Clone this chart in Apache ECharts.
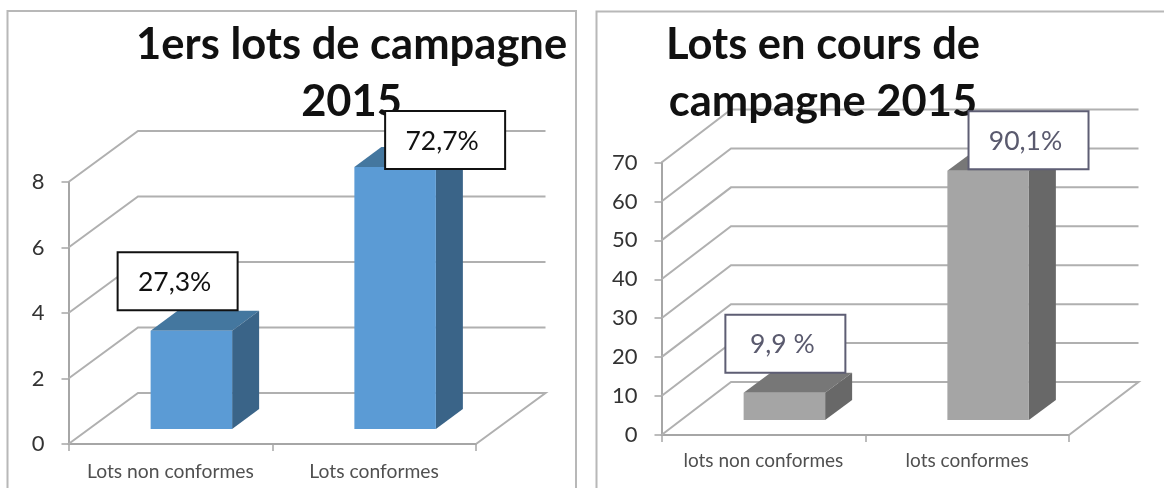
<!DOCTYPE html>
<html>
<head>
<meta charset="utf-8">
<style>
  html, body { margin: 0; padding: 0; background: #fff; }
  #chart { width: 1164px; height: 488px; }
</style>
<script src="https://cdn.jsdelivr.net/npm/echarts@6/dist/echarts.min.js"></script>
</head>
<body>
<div id="chart"></div>
<script>
const leftTitle = '1ers lots de campagne\n2015'
const leftCategories = ['Lots non conformes', 'Lots conformes']
const leftValues = [3, 8]
const leftLabels = ['27,3%', '72,7%']
const leftTicks = [0, 2, 4, 6, 8]

const rightTitle = 'Lots en cours de\ncampagne 2015'
const rightCategories = ['lots non conformes', 'lots conformes']
const rightValues = [7, 64]
const rightLabels = ['9,9 %', '90,1%']
const rightTicks = [0, 10, 20, 30, 40, 50, 60, 70]

const FONT = 'Lato, "Noto Sans", sans-serif'
const GRID_COLOR = '#b0b0b0'

// fake 3D: how far the back wall sits from the axes, and how deep a bar is
const wall = { left: [69.5, -51], right: [69.5, -53] }
const barDepth = [27, -20]
const barInset = [21, -15]

const panels = [
  {
    title: leftTitle, categories: leftCategories, values: leftValues, labels: leftLabels, ticks: leftTicks,
    grid: { left: 68.5, top: 182, width: 407.5, height: 262 },
    titleX: 346.6, titleTop: 11.5, catMargin: 18, catSize: 19.3,
    wall: wall.left,
    front: '#5b9bd5', side: '#3a6488', topFace: '#44779f',
    boxBorder: '#111', boxText: '#111',
    boxOffset: [[-13.75, -49.6], [50, -27]],
  },
  {
    title: rightTitle, categories: rightCategories, values: rightValues, labels: rightLabels, ticks: rightTicks,
    grid: { left: 661.5, top: 162.5, width: 407.5, height: 272.5 },
    titleX: 818, titleTop: 11.5, catMargin: 16, catSize: 19,
    wall: wall.right,
    front: '#a5a5a5', side: '#686868', topFace: '#777777',
    boxBorder: '#5e5e74', boxText: '#5a5a6e',
    boxOffset: [[1, -49], [40.4, -30.5]],
  },
]

function wallSeries(p, i) {
  return {
    type: 'custom', xAxisIndex: i, yAxisIndex: i, z: 1, silent: true, clip: false,
    data: p.ticks.map((t) => [0, t]),
    renderItem: (params, api) => {
      const box = params.coordSys
      const y = api.coord([0, api.value(1)])[1]
      const points = [
        [box.x, y],
        [box.x + p.wall[0], y + p.wall[1]],
        [box.x + box.width + p.wall[0], y + p.wall[1]],
      ]
      // the floor closes back onto the x axis
      if (api.value(1) === 0) points.push([box.x + box.width, y])
      return { type: 'polyline', shape: { points }, style: { stroke: GRID_COLOR, fill: 'none', lineWidth: 2 } }
    },
  }
}

function barFrame(api, index, value) {
  const band = api.size([1, 0])[0]
  const w = band * 0.4
  const cx = api.coord([index, 0])[0] + barInset[0]
  return {
    cx,
    x0: cx - w / 2,
    x1: cx + w / 2,
    base: api.coord([index, 0])[1] + barInset[1],
    top: api.coord([index, value])[1] + barInset[1],
  }
}

function barSeries(p, i) {
  return {
    type: 'custom', xAxisIndex: i, yAxisIndex: i, z: 4, silent: true, clip: false,
    data: p.values.map((v, idx) => [idx, v]),
    renderItem: (params, api) => {
      const f = barFrame(api, api.value(0), api.value(1))
      const [dx, dy] = barDepth
      return {
        type: 'group',
        children: [
          { type: 'polygon', shape: { points: [[f.x0, f.top], [f.x1, f.top], [f.x1 + dx, f.top + dy], [f.x0 + dx, f.top + dy]] }, style: { fill: p.topFace } },
          { type: 'polygon', shape: { points: [[f.x1, f.top], [f.x1 + dx, f.top + dy], [f.x1 + dx, f.base + dy], [f.x1, f.base]] }, style: { fill: p.side } },
          { type: 'rect', shape: { x: f.x0, y: f.top, width: f.x1 - f.x0, height: f.base - f.top }, style: { fill: p.front } },
        ],
      }
    },
  }
}

function labelSeries(p, i) {
  return {
    type: 'custom', xAxisIndex: i, yAxisIndex: i, z: 5, silent: true, clip: false,
    data: p.values.map((v, idx) => [idx, v]),
    renderItem: (params, api) => {
      const idx = api.value(0)
      const f = barFrame(api, idx, api.value(1))
      const cx = f.cx + p.boxOffset[idx][0]
      const cy = f.top + p.boxOffset[idx][1]
      const h = 58
      return {
        type: 'group',
        children: [
          { type: 'rect', shape: { x: cx - 60, y: cy - h / 2, width: 120, height: h }, style: { fill: '#fff', stroke: p.boxBorder, lineWidth: 2 } },
          { type: 'text', style: { text: p.labels[idx], x: cx - 3, y: cy + 1, align: 'center', verticalAlign: 'middle', fill: p.boxText, fontFamily: FONT, fontSize: 26.5 } },
        ],
      }
    },
  }
}

const option = {
  animation: false,
  backgroundColor: '#fff',
  title: panels.map((p) => ({
    text: p.title,
    left: p.titleX,
    top: p.titleTop,
    textAlign: 'center',
    z: 3,
    textStyle: { fontFamily: FONT, fontWeight: 'bold', fontSize: 43.5, lineHeight: 57, color: '#111' },
  })),
  graphic: [
    { type: 'rect', z: -1, shape: { x: 7.5, y: 11, width: 568.5, height: 500 }, style: { fill: 'none', stroke: '#b8b8b8', lineWidth: 2 } },
    { type: 'rect', z: -1, shape: { x: 596.5, y: 11.5, width: 600, height: 500 }, style: { fill: 'none', stroke: '#b8b8b8', lineWidth: 2 } },
  ],
  grid: panels.map((p) => p.grid),
  xAxis: panels.map((p, i) => ({
    type: 'category',
    gridIndex: i,
    data: p.categories,
    axisLine: { lineStyle: { color: '#a6a6a6', width: 2 } },
    axisTick: { show: true, length: 7, lineStyle: { color: '#a6a6a6', width: 1.5 } },
    axisLabel: { interval: 0, margin: p.catMargin, fontFamily: FONT, fontSize: p.catSize, color: '#505050' },
    splitLine: { show: false },
  })),
  yAxis: panels.map((p, i) => ({
    type: 'value',
    gridIndex: i,
    min: 0,
    max: p.ticks[p.ticks.length - 1],
    interval: p.ticks[1] - p.ticks[0],
    axisLine: { show: true, lineStyle: { color: '#a6a6a6', width: 2 } },
    axisTick: { show: true, length: 7, lineStyle: { color: '#a6a6a6', width: 1.5 } },
    axisLabel: { margin: 24, fontFamily: FONT, fontSize: 22, color: '#333' },
    splitLine: { show: false },
  })),
  series: panels.flatMap((p, i) => [wallSeries(p, i), barSeries(p, i), labelSeries(p, i)]),
}

const myChart = echarts.init(document.getElementById('chart'))
myChart.setOption(option)
</script>
</body>
</html>
